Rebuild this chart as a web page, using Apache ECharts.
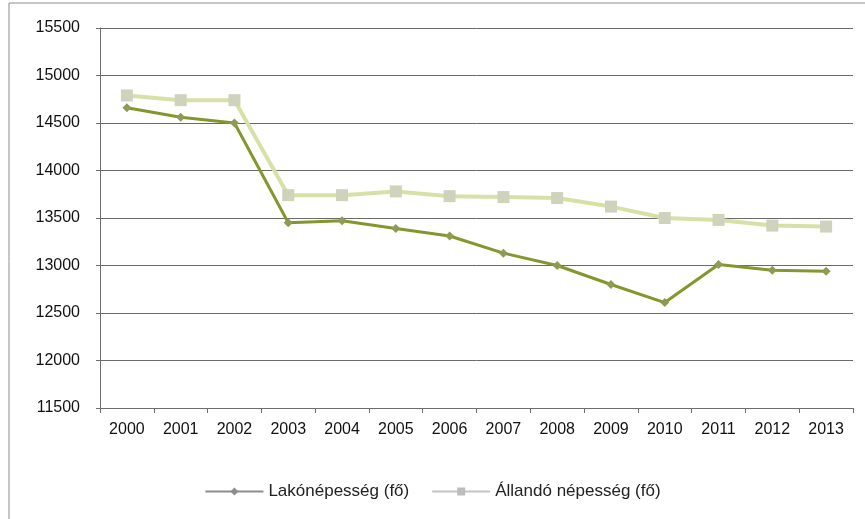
<!DOCTYPE html>
<html><head><meta charset="utf-8">
<script src="https://cdn.jsdelivr.net/npm/echarts@6/dist/echarts.min.js"></script>
<style>html,body{margin:0;padding:0;background:#fff}#c{width:865px;height:519px}</style>
</head><body><div id="c"></div>
<script>
const years = ['2000','2001','2002','2003','2004','2005','2006','2007','2008','2009','2010','2011','2012','2013'];
const lakonepesseg = [14660,14560,14500,13450,13470,13390,13310,13130,13000,12800,12610,13010,12950,12940];
const allandoNepesseg = [14790,14740,14740,13740,13740,13780,13730,13720,13710,13620,13500,13480,13420,13410];
const seriesNames = ['Lakónépesség (fő)','Állandó népesség (fő)'];
const yTicks = [11500,12000,12500,13000,13500,14000,14500,15000,15500];

const chart = echarts.init(document.getElementById('c'));
const font = '"Liberation Sans", Arial, sans-serif';
chart.setOption({
  animation:false,
  graphic:[{type:'rect',shape:{x:9,y:3,width:880,height:540},style:{fill:'none',stroke:'#8c8c8c',lineWidth:1}}],
  grid:{left:100,right:12,top:28,bottom:111},
  legend:{bottom:14,left:'center',itemGap:22,itemWidth:58,itemHeight:10,
    textStyle:{fontFamily:font,fontSize:17,color:'#222'},
    data:[{name:seriesNames[0],itemStyle:{color:'#8d8d8d'},lineStyle:{color:'#8d8d8d'}},
          {name:seriesNames[1],itemStyle:{color:'#bdbdbd'},lineStyle:{color:'#c4c4c4'}}]},
  xAxis:{type:'category',data:years,boundaryGap:true,
    axisLine:{lineStyle:{color:'#6e6e6e'}},
    axisTick:{show:true,alignWithLabel:false,length:5,lineStyle:{color:'#6e6e6e'}},
    axisLabel:{fontFamily:font,fontSize:16,color:'#111',margin:14}},
  yAxis:{type:'value',min:yTicks[0],max:yTicks[yTicks.length-1],interval:500,
    axisLine:{show:true,lineStyle:{color:'#6e6e6e'}},
    axisTick:{show:true,length:4,lineStyle:{color:'#6e6e6e'}},
    splitLine:{lineStyle:{color:'#6a6a6a',width:1}},
    axisLabel:{fontFamily:font,fontSize:16,color:'#111',margin:20,formatter:v=>String(v)}},
  series:[
    {name:seriesNames[1],type:'line',data:allandoNepesseg,symbol:'rect',symbolSize:12,
      lineStyle:{color:'#d9e0a6',width:4},itemStyle:{color:'#cfd2bd',borderWidth:0},z:2},
    {name:seriesNames[0],type:'line',data:lakonepesseg,symbol:'diamond',symbolSize:9,
      lineStyle:{color:'#86962c',width:3},itemStyle:{color:'#8e9a55'},z:3}
  ]
});
</script></body></html>
